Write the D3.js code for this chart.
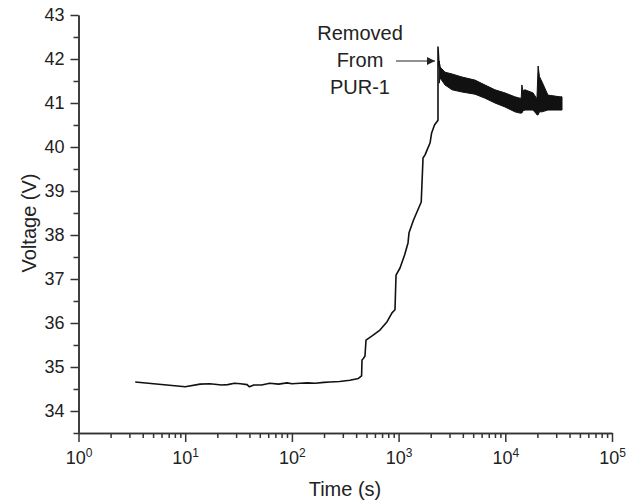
<!DOCTYPE html>
<html lang="en">
<head>
<meta charset="utf-8">
<title>Voltage vs time</title>
<script src="https://cdn.jsdelivr.net/npm/d3@7"></script>
<style>
  body { margin: 0; background: #fff; }
  text { font-family: "Liberation Sans", Arial, sans-serif; fill: #222; }
  .axis path, .axis line { stroke: #333; stroke-width: 1.5px; }
  .line { fill: none; stroke: #111; stroke-width: 1.6px; stroke-linejoin: round; }
</style>
</head>
<body>
<script>
// data: time (s), voltage (V)
var mainT = [3.4, 10, 13.8, 17, 22, 25, 29, 33, 38, 40, 44, 52, 62, 75, 90, 100, 119, 140, 165, 200, 228, 280, 350, 420, 450,
             454, 470, 484, 495, 560, 669, 780, 867, 925, 946, 1031, 1140, 1225, 1252, 1380, 1630, 1694, 1770, 1846, 1970, 2040, 2170, 2340, 2340, 2380, 2445];
var mainV = [34.66, 34.55, 34.61, 34.62, 34.59, 34.60, 34.63, 34.62, 34.60, 34.55, 34.59, 34.59, 34.63, 34.61, 34.64, 34.62, 34.63, 34.64, 34.63, 34.65, 34.66, 34.67, 34.70, 34.74, 34.80,
             35.16, 35.20, 35.25, 35.61, 35.70, 35.84, 36.03, 36.23, 36.30, 37.09, 37.25, 37.55, 37.82, 38.05, 38.34, 38.75, 39.75, 39.82, 39.93, 40.09, 40.32, 40.50, 40.61, 42.27, 41.95, 41.78];

// noisy band after removal: time, upper edge, lower edge
var bandT  = [2400, 2445, 2723, 3168, 3930, 5200, 6450, 8000, 9930, 12300, 13700, 14100, 14300, 14600, 15300, 18200, 19600, 19800, 20300, 20900, 22100, 25100, 32600, 34000];
var bandHi = [41.95, 41.82, 41.70, 41.66, 41.59, 41.52, 41.41, 41.30, 41.23, 41.14, 41.11, 41.11, 41.41, 41.28, 41.30, 41.23, 41.11, 41.11, 41.84, 41.60, 41.48, 41.18, 41.14, 41.14];
var bandLo = [41.45, 41.57, 41.41, 41.30, 41.25, 41.20, 41.11, 41.00, 40.91, 40.80, 40.77, 40.77, 40.77, 40.82, 40.84, 40.84, 40.75, 40.73, 40.73, 40.80, 40.80, 40.84, 40.84, 40.84];

var xMajor = [1, 10, 100, 1000, 10000, 100000];
var yMajor = [34, 35, 36, 37, 38, 39, 40, 41, 42, 43];

var W = 636, H = 501;
var svg = d3.select("body").append("svg").attr("width", W).attr("height", H);

var x = d3.scaleLog().domain([1, 1e5]).range([78.5, 612]);
var y = d3.scaleLinear().domain([33.5, 43]).range([433, 15]);

// minor ticks
var xMinor = [];
xMajor.slice(0, -1).forEach(function(d) {
    for (var k = 2; k <= 9; k++) xMinor.push(d * k);
});
var yMinor = yMajor.slice(0, -1).map(function(d) { return d + 0.5; });
yMinor.unshift(33.5);

svg.append("g")
    .attr("class", "axis")
    .attr("transform", "translate(0,433)")
    .call(d3.axisBottom(x).tickValues(xMinor).tickSize(5).tickSizeOuter(0).tickFormat(""));

var gx = svg.append("g")
    .attr("class", "axis")
    .attr("transform", "translate(0,433)")
    .call(d3.axisBottom(x).tickValues(xMajor).tickSize(9).tickSizeOuter(0).tickFormat(""));

gx.selectAll(".tick").each(function(d) {
    var t = d3.select(this).append("text")
        .attr("y", 31)
        .attr("text-anchor", "middle")
        .style("font-size", "18px");
    t.append("tspan").text("10");
    t.append("tspan").attr("dy", "-7").style("font-size", "12px").text(Math.round(Math.log10(d)));
});

svg.append("g")
    .attr("class", "axis")
    .attr("transform", "translate(78.5,0)")
    .call(d3.axisLeft(y).tickValues(yMinor).tickSize(5).tickSizeOuter(0).tickFormat(""));

svg.append("g")
    .attr("class", "axis")
    .attr("transform", "translate(78.5,0)")
    .call(d3.axisLeft(y).tickValues(yMajor).tickSize(8).tickPadding(6).tickSizeOuter(0))
    .selectAll("text")
    .style("font-size", "18px")
    .style("fill", "#222");

// axis titles
svg.append("text")
    .attr("x", 345).attr("y", 496)
    .attr("text-anchor", "middle")
    .style("font-size", "20px")
    .text("Time (s)");

svg.append("text")
    .attr("transform", "translate(36,223) rotate(-90)")
    .attr("text-anchor", "middle")
    .style("font-size", "20px")
    .text("Voltage (V)");

// curve
var mainData = mainT.map(function(t, i) { return [t, mainV[i]]; });
var bandData = bandT.map(function(t, i) { return [t, bandHi[i], bandLo[i]]; });

svg.append("path")
    .datum(bandData)
    .attr("fill", "#111")
    .attr("stroke", "#111")
    .attr("stroke-width", 1)
    .attr("d", d3.area()
        .x(function(d) { return x(d[0]); })
        .y0(function(d) { return y(d[2]); })
        .y1(function(d) { return y(d[1]); }));

svg.append("path")
    .datum(mainData)
    .attr("class", "line")
    .attr("d", d3.line()
        .x(function(d) { return x(d[0]); })
        .y(function(d) { return y(d[1]); }));

// annotation
var note = ["Removed", "From", "PUR-1"];
svg.selectAll(".note")
    .data(note)
  .enter().append("text")
    .attr("class", "note")
    .attr("x", 360)
    .attr("y", function(d, i) { return 40 + i * 27; })
    .attr("text-anchor", "middle")
    .style("font-size", "20px")
    .text(function(d) { return d; });

svg.append("defs").append("marker")
    .attr("id", "arr")
    .attr("viewBox", "0 0 10 10")
    .attr("refX", 10).attr("refY", 5)
    .attr("markerWidth", 10).attr("markerHeight", 8)
    .attr("markerUnits", "userSpaceOnUse")
    .attr("orient", "auto")
  .append("path")
    .attr("d", "M0,0L10,5L0,10Z")
    .attr("fill", "#222");

svg.append("line")
    .attr("x1", 396).attr("y1", 61)
    .attr("x2", 435).attr("y2", 61)
    .attr("stroke", "#222")
    .attr("stroke-width", 1)
    .attr("marker-end", "url(#arr)");
</script>
</body>
</html>
